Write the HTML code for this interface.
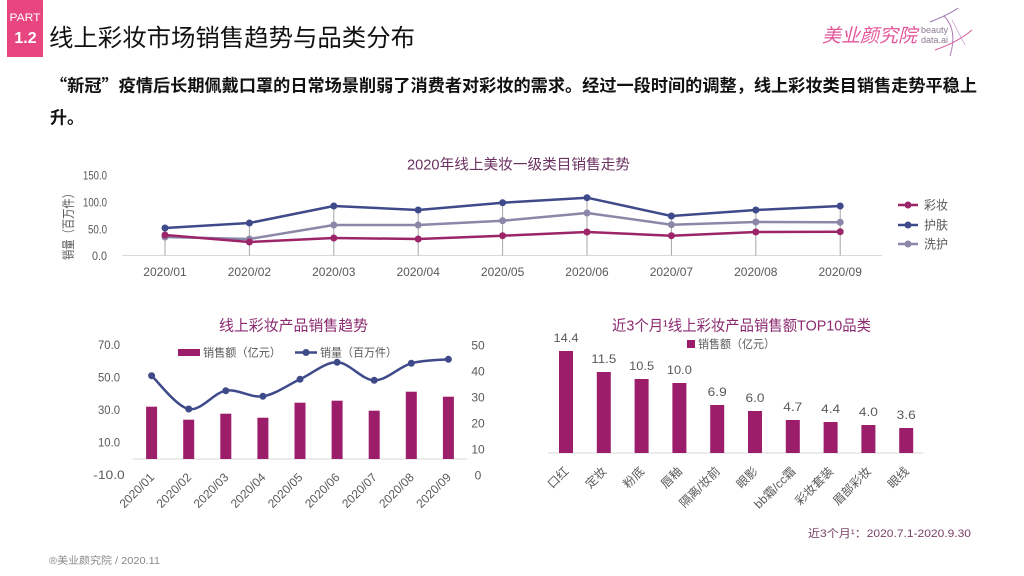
<!DOCTYPE html>
<html><head><meta charset="utf-8"><style>
html,body{margin:0;padding:0;background:#fff;}
svg{display:block;}
text{font-family:"Liberation Sans","Noto Sans CJK SC",sans-serif;}
.cjk{font-family:"Noto Sans CJK SC","Liberation Sans",sans-serif;}
</style></head><body>
<svg width="1024" height="576" viewBox="0 0 1024 576" xmlns="http://www.w3.org/2000/svg">
<defs>
<linearGradient id="fl" x1="0" x2="1" y1="0" y2="0">
<stop offset="0" stop-color="#b76a96"/><stop offset="0.6" stop-color="#a07aa0"/><stop offset="1" stop-color="#6e6a8e"/>
</linearGradient>
</defs>
<rect width="1024" height="576" fill="#fff"/>

<!-- header -->
<rect x="7" y="0" width="36" height="57" fill="#e8467f"/>
<text x="25" y="21" font-size="11" fill="#fff" text-anchor="middle" textLength="31" lengthAdjust="spacingAndGlyphs">PART</text>
<text x="25.5" y="43" font-size="16" font-weight="bold" fill="#fff" text-anchor="middle">1.2</text>
<text class="cjk" x="49" y="46" font-size="24" fill="#111" textLength="366" lengthAdjust="spacingAndGlyphs">线上彩妆市场销售趋势与品类分布</text>

<!-- logo -->
<text class="cjk" x="822" y="42" font-size="19" fill="#e4559a" font-style="italic" textLength="95" lengthAdjust="spacingAndGlyphs">美业颜究院</text>
<text x="921" y="33" font-size="9" fill="#8a7a96">beauty</text>
<text x="921" y="43" font-size="9" fill="#8a7a96">data.ai</text>
<path d="M930 22 Q950 14 958 8" stroke="#9a6fb0" stroke-width="1" fill="none"/>
<path d="M944 16 Q958 30 950 56" stroke="#b07ab8" stroke-width="1" fill="none"/>
<path d="M935 50 Q958 42 972 30" stroke="#d45a9a" stroke-width="1" fill="none"/>
<path d="M952 20 L965 45" stroke="#c9a0cc" stroke-width="0.8" fill="none"/>

<!-- subtitle -->
<text class="cjk" x="50" y="91.5" font-size="17" font-weight="bold" fill="#111" textLength="927" lengthAdjust="spacingAndGlyphs">“新冠”疫情后长期佩戴口罩的日常场景削弱了消费者对彩妆的需求。经过一段时间的调整，线上彩妆类目销售走势平稳上</text>
<text class="cjk" x="50" y="123.5" font-size="17" font-weight="bold" fill="#111">升。</text>

<!-- ===== top chart ===== -->
<text x="518.5" y="169.5" font-size="14.5" fill="#6a3060" text-anchor="middle" textLength="223" lengthAdjust="spacingAndGlyphs">2020年线上美妆一级类目销售走势</text>
<text transform="translate(73,224) rotate(-90)" font-size="13" fill="#595959" text-anchor="middle" textLength="72" lengthAdjust="spacingAndGlyphs">销量（百万件）</text>
<g font-size="12" fill="#595959" text-anchor="end">
<text x="107" y="179.5" textLength="24" lengthAdjust="spacingAndGlyphs">150.0</text>
<text x="107" y="206.5" textLength="24" lengthAdjust="spacingAndGlyphs">100.0</text>
<text x="107" y="233.5" textLength="19" lengthAdjust="spacingAndGlyphs">50.0</text>
<text x="107" y="260" textLength="15" lengthAdjust="spacingAndGlyphs">0.0</text>
</g>
<line x1="122" y1="255.5" x2="882" y2="255.5" stroke="#d9d9d9" stroke-width="1"/>
<g stroke="#a6a6a6" stroke-width="1">
<line x1="165" y1="255.5" x2="165" y2="228"/>
<line x1="249.4" y1="255.5" x2="249.4" y2="223"/>
<line x1="333.8" y1="255.5" x2="333.8" y2="206"/>
<line x1="418.2" y1="255.5" x2="418.2" y2="210"/>
<line x1="502.6" y1="255.5" x2="502.6" y2="202.7"/>
<line x1="587" y1="255.5" x2="587" y2="197.7"/>
<line x1="671.4" y1="255.5" x2="671.4" y2="216"/>
<line x1="755.8" y1="255.5" x2="755.8" y2="210"/>
<line x1="840.2" y1="255.5" x2="840.2" y2="206"/>
</g>
<g font-size="12" fill="#595959" text-anchor="middle">
<text x="165" y="276">2020/01</text>
<text x="249.4" y="276">2020/02</text>
<text x="333.8" y="276">2020/03</text>
<text x="418.2" y="276">2020/04</text>
<text x="502.6" y="276">2020/05</text>
<text x="587" y="276">2020/06</text>
<text x="671.4" y="276">2020/07</text>
<text x="755.8" y="276">2020/08</text>
<text x="840.2" y="276">2020/09</text>
</g>
<!-- 洗护 -->
<polyline points="165,237 249.4,239 333.8,225 418.2,225 502.6,220.7 587,213 671.4,224.7 755.8,222 840.2,222.3" fill="none" stroke="#8a87a8" stroke-width="2.5" stroke-linejoin="round"/>
<g fill="#8a87a8">
<circle cx="165" cy="237" r="3.5"/><circle cx="249.4" cy="239" r="3.5"/><circle cx="333.8" cy="225" r="3.5"/><circle cx="418.2" cy="225" r="3.5"/><circle cx="502.6" cy="220.7" r="3.5"/><circle cx="587" cy="213" r="3.5"/><circle cx="671.4" cy="224.7" r="3.5"/><circle cx="755.8" cy="222" r="3.5"/><circle cx="840.2" cy="222.3" r="3.5"/>
</g>
<!-- 彩妆 -->
<polyline points="165,235 249.4,242 333.8,238 418.2,239 502.6,235.7 587,232 671.4,235.7 755.8,232 840.2,231.7" fill="none" stroke="#9c2468" stroke-width="2.5" stroke-linejoin="round"/>
<g fill="#9c2468">
<circle cx="165" cy="235" r="3.5"/><circle cx="249.4" cy="242" r="3.5"/><circle cx="333.8" cy="238" r="3.5"/><circle cx="418.2" cy="239" r="3.5"/><circle cx="502.6" cy="235.7" r="3.5"/><circle cx="587" cy="232" r="3.5"/><circle cx="671.4" cy="235.7" r="3.5"/><circle cx="755.8" cy="232" r="3.5"/><circle cx="840.2" cy="231.7" r="3.5"/>
</g>
<!-- 护肤 -->
<polyline points="165,228 249.4,223 333.8,206 418.2,210 502.6,202.7 587,197.7 671.4,216 755.8,210 840.2,206" fill="none" stroke="#3f4a8a" stroke-width="2.5" stroke-linejoin="round"/>
<g fill="#3f4a8a">
<circle cx="165" cy="228" r="3.5"/><circle cx="249.4" cy="223" r="3.5"/><circle cx="333.8" cy="206" r="3.5"/><circle cx="418.2" cy="210" r="3.5"/><circle cx="502.6" cy="202.7" r="3.5"/><circle cx="587" cy="197.7" r="3.5"/><circle cx="671.4" cy="216" r="3.5"/><circle cx="755.8" cy="210" r="3.5"/><circle cx="840.2" cy="206" r="3.5"/>
</g>
<!-- legend top -->
<g font-size="12.5" fill="#595959">
<line x1="898" y1="205" x2="918" y2="205" stroke="#9c2468" stroke-width="2.5"/><circle cx="908" cy="205" r="3.5" fill="#9c2468"/>
<text x="924" y="209.5" textLength="24" lengthAdjust="spacingAndGlyphs">彩妆</text>
<line x1="898" y1="225" x2="918" y2="225" stroke="#3f4a8a" stroke-width="2.5"/><circle cx="908" cy="225" r="3.5" fill="#3f4a8a"/>
<text x="924" y="229.5" textLength="24" lengthAdjust="spacingAndGlyphs">护肤</text>
<line x1="898" y1="244" x2="918" y2="244" stroke="#8a87a8" stroke-width="2.5"/><circle cx="908" cy="244" r="3.5" fill="#8a87a8"/>
<text x="924" y="248.5" textLength="24" lengthAdjust="spacingAndGlyphs">洗护</text>
</g>

<!-- ===== bottom-left chart ===== -->
<text x="293.5" y="330.5" font-size="15" fill="#8b2a70" text-anchor="middle" textLength="149" lengthAdjust="spacingAndGlyphs">线上彩妆产品销售趋势</text>
<g font-size="11.5" fill="#595959" text-anchor="middle">
<text x="109" y="349" textLength="22" lengthAdjust="spacingAndGlyphs">70.0</text>
<text x="109" y="381.5" textLength="22" lengthAdjust="spacingAndGlyphs">50.0</text>
<text x="109" y="414" textLength="22" lengthAdjust="spacingAndGlyphs">30.0</text>
<text x="109" y="446.5" textLength="22" lengthAdjust="spacingAndGlyphs">10.0</text>
<text x="109" y="479" textLength="31.5" lengthAdjust="spacingAndGlyphs">-10.0</text>
</g>
<g font-size="12" fill="#595959" text-anchor="middle">
<text x="478" y="349.5">50</text>
<text x="478" y="375.5">40</text>
<text x="478" y="401.5">30</text>
<text x="478" y="427.5">20</text>
<text x="478" y="453.5">10</text>
<text x="478" y="479.5">0</text>
</g>
<line x1="133" y1="459" x2="467" y2="459" stroke="#d9d9d9" stroke-width="1"/>
<g fill="#9c1e6a">
<rect x="146.1" y="406.7" width="11" height="52.3"/>
<rect x="183.2" y="419.7" width="11" height="39.3"/>
<rect x="220.3" y="413.7" width="11" height="45.3"/>
<rect x="257.4" y="417.7" width="11" height="41.3"/>
<rect x="294.5" y="402.7" width="11" height="56.3"/>
<rect x="331.6" y="400.7" width="11" height="58.3"/>
<rect x="368.7" y="410.7" width="11" height="48.3"/>
<rect x="405.8" y="391.7" width="11" height="67.3"/>
<rect x="442.9" y="396.7" width="11" height="62.3"/>
</g>
<path d="M151.6 375.7 C157.8 381.3 176.3 406.5 188.7 409 C201.1 411.5 213.4 392.8 225.8 390.7 C238.2 388.6 250.5 398.2 262.9 396.3 C275.3 394.4 287.6 385 300 379.3 C312.4 373.6 324.7 362.1 337.1 362.3 C349.5 362.5 361.8 380.1 374.2 380.3 C386.6 380.5 398.9 366.8 411.3 363.3 C423.7 359.8 442.2 360 448.4 359.3" fill="none" stroke="#3f4a8a" stroke-width="2.5"/>
<g fill="#3f4a8a">
<circle cx="151.6" cy="375.7" r="3.5"/><circle cx="188.7" cy="409" r="3.5"/><circle cx="225.8" cy="390.7" r="3.5"/><circle cx="262.9" cy="396.3" r="3.5"/><circle cx="300" cy="379.3" r="3.5"/><circle cx="337.1" cy="362.3" r="3.5"/><circle cx="374.2" cy="380.3" r="3.5"/><circle cx="411.3" cy="363.3" r="3.5"/><circle cx="448.4" cy="359.3" r="3.5"/>
</g>
<!-- legend -->
<rect x="178" y="349" width="22" height="7" fill="#9c1e6a"/>
<text x="203" y="356.5" font-size="11.5" fill="#595959" textLength="78" lengthAdjust="spacingAndGlyphs">销售额（亿元）</text>
<line x1="295" y1="352.5" x2="317" y2="352.5" stroke="#3f4a8a" stroke-width="2.5"/><circle cx="306" cy="352.5" r="3.5" fill="#3f4a8a"/>
<text x="320" y="356.5" font-size="11.5" fill="#595959" textLength="77" lengthAdjust="spacingAndGlyphs">销量（百万件）</text>
<!-- rotated x labels -->
<g font-size="12" fill="#595959" text-anchor="end">
<text transform="translate(155,478) rotate(-45)">2020/01</text>
<text transform="translate(192.1,478) rotate(-45)">2020/02</text>
<text transform="translate(229.2,478) rotate(-45)">2020/03</text>
<text transform="translate(266.3,478) rotate(-45)">2020/04</text>
<text transform="translate(303.4,478) rotate(-45)">2020/05</text>
<text transform="translate(340.5,478) rotate(-45)">2020/06</text>
<text transform="translate(377.6,478) rotate(-45)">2020/07</text>
<text transform="translate(414.7,478) rotate(-45)">2020/08</text>
<text transform="translate(451.8,478) rotate(-45)">2020/09</text>
</g>

<!-- ===== bottom-right chart ===== -->
<text x="741.5" y="330.5" font-size="15" fill="#8b2a70" text-anchor="middle" textLength="259" lengthAdjust="spacingAndGlyphs">近3个月¹线上彩妆产品销售额TOP10品类</text>
<rect x="687" y="340" width="8" height="8" fill="#9c1e6a"/>
<text x="698" y="348" font-size="11.5" fill="#595959" textLength="77" lengthAdjust="spacingAndGlyphs">销售额（亿元）</text>
<line x1="548" y1="453" x2="923" y2="453" stroke="#d9d9d9" stroke-width="1"/>
<g fill="#9c1e6a">
<rect x="559" y="351" width="14" height="102"/>
<rect x="596.8" y="372" width="14" height="81"/>
<rect x="634.6" y="379" width="14" height="74"/>
<rect x="672.4" y="383" width="14" height="70"/>
<rect x="710.2" y="405" width="14" height="48"/>
<rect x="748" y="411" width="14" height="42"/>
<rect x="785.8" y="420" width="14" height="33"/>
<rect x="823.6" y="422" width="14" height="31"/>
<rect x="861.4" y="425" width="14" height="28"/>
<rect x="899.2" y="428" width="14" height="25"/>
</g>
<g font-size="11.5" fill="#595959" text-anchor="middle">
<text x="566" y="342" textLength="25" lengthAdjust="spacingAndGlyphs">14.4</text>
<text x="603.8" y="363" textLength="25" lengthAdjust="spacingAndGlyphs">11.5</text>
<text x="641.6" y="370" textLength="25" lengthAdjust="spacingAndGlyphs">10.5</text>
<text x="679.4" y="374" textLength="25" lengthAdjust="spacingAndGlyphs">10.0</text>
<text x="717.2" y="396" textLength="19" lengthAdjust="spacingAndGlyphs">6.9</text>
<text x="755" y="402" textLength="19" lengthAdjust="spacingAndGlyphs">6.0</text>
<text x="792.8" y="411" textLength="19" lengthAdjust="spacingAndGlyphs">4.7</text>
<text x="830.6" y="413" textLength="19" lengthAdjust="spacingAndGlyphs">4.4</text>
<text x="868.4" y="416" textLength="19" lengthAdjust="spacingAndGlyphs">4.0</text>
<text x="906.2" y="419" textLength="19" lengthAdjust="spacingAndGlyphs">3.6</text>
</g>
<g font-size="12" fill="#595959" text-anchor="end">
<text transform="translate(569.5,472) rotate(-45)">口红</text>
<text transform="translate(607.3,472) rotate(-45)">定妆</text>
<text transform="translate(645.1,472) rotate(-45)">粉底</text>
<text transform="translate(682.9,472) rotate(-45)">唇釉</text>
<text transform="translate(720.7,472) rotate(-45)">隔离/妆前</text>
<text transform="translate(758.5,472) rotate(-45)">眼影</text>
<text transform="translate(796.3,472) rotate(-45)">bb霜/cc霜</text>
<text transform="translate(834.1,472) rotate(-45)">彩妆套装</text>
<text transform="translate(871.9,472) rotate(-45)">眉部彩妆</text>
<text transform="translate(909.7,472) rotate(-45)">眼线</text>
</g>

<!-- footer -->
<text x="808" y="537" font-size="11" fill="#7a3f66" textLength="163" lengthAdjust="spacingAndGlyphs">近3个月¹：2020.7.1-2020.9.30</text>
<line x1="49" y1="545" x2="975" y2="545" stroke="url(#fl)" stroke-width="1.5"/>
<text x="49" y="564" font-size="10" fill="#888" textLength="111" lengthAdjust="spacingAndGlyphs">®美业颜究院 / 2020.11</text>
</svg>
</body></html>
